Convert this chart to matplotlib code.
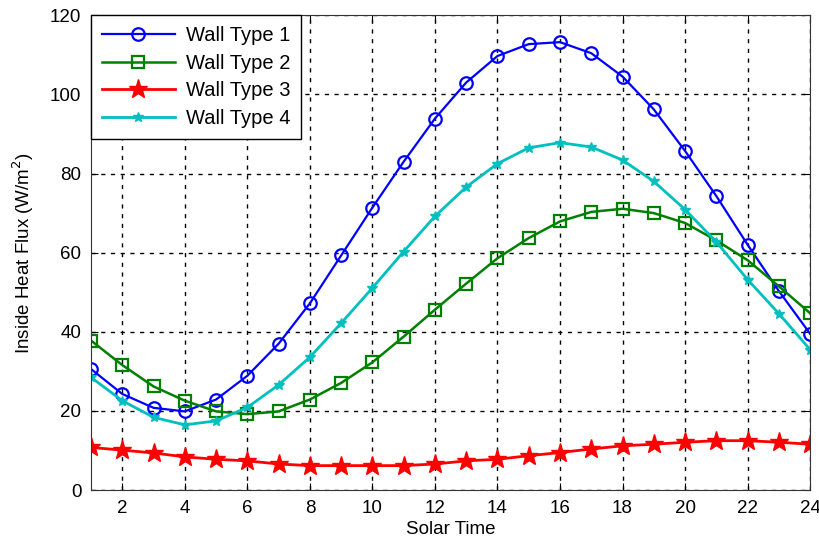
import numpy as np
import matplotlib
matplotlib.use('Agg')
import matplotlib.pyplot as plt

plt.rcParams['font.family'] = ['Liberation Sans', 'DejaVu Sans']

hours = list(range(1, 25))

# inside heat flux (W/m2)
wall1 = [30.6, 24.3, 20.8, 19.9, 22.9, 28.9, 37.0, 47.2, 59.3, 71.4, 83.0, 93.9,
         103.0, 109.7, 112.7, 113.2, 110.4, 104.5, 96.2, 85.7, 74.3, 62.0, 50.3, 39.5]
wall2 = [37.8, 31.6, 26.2, 22.6, 19.9, 19.2, 19.9, 22.9, 27.1, 32.3, 38.8, 45.6,
         52.2, 58.6, 63.7, 67.9, 70.3, 71.1, 70.0, 67.5, 63.1, 58.1, 51.5, 44.7]
wall3 = [10.8, 10.1, 9.4, 8.4, 7.8, 7.4, 6.6, 6.2, 6.2, 6.2, 6.2, 6.6,
         7.4, 7.8, 8.7, 9.5, 10.4, 11.2, 11.6, 12.1, 12.5, 12.5, 12.1, 11.6]
wall4 = [28.5, 22.6, 18.4, 16.5, 17.5, 20.9, 26.6, 33.6, 42.2, 51.1, 60.3, 69.2,
         76.6, 82.5, 86.5, 87.8, 86.7, 83.4, 78.0, 70.9, 62.7, 53.2, 44.6, 35.5]

xticks = [2, 4, 6, 8, 10, 12, 14, 16, 18, 20, 22, 24]
yticks = [0, 20, 40, 60, 80, 100, 120]

fig = plt.figure(figsize=(8.2, 5.44), dpi=100)
ax = fig.add_axes([0.111, 0.099, 0.877, 0.873])

ax.plot(hours, wall1, color='#0000ff', lw=1.6, marker='o', ms=9,
        mfc='none', mew=1.6, label='Wall Type 1')
ax.plot(hours, wall2, color='#008000', lw=1.8, marker='s', ms=9,
        mfc='none', mew=1.6, label='Wall Type 2')
ax.plot(hours, wall3, color='#ff0000', lw=2.0, marker='*', ms=14,
        label='Wall Type 3')
ax.plot(hours, wall4, color='#00bfbf', lw=2.0, marker='*', ms=7,
        label='Wall Type 4')

ax.set_xlim(1, 24)
ax.set_ylim(0, 120)
ax.set_xticks(xticks)
ax.set_yticks(yticks)
ax.tick_params(direction='in', top=True, right=True, length=5, labelsize=13.5, pad=7)
ax.grid(True, color='black', linestyle=(0, (3, 4)), linewidth=1.0)
for s in ax.spines.values():
    s.set_color('#333333')

ax.set_xlabel('Solar Time', fontsize=13.5, labelpad=3)
ax.set_ylabel('Inside Heat Flux (W/m$^2$)', fontsize=13.5, labelpad=10)

leg = ax.legend(loc='upper left', prop={'size': 14.5}, handlelength=3.6,
                fancybox=False, framealpha=1, borderaxespad=0,
                labelspacing=0.42, borderpad=0.55, handletextpad=0.55)
leg.get_frame().set_edgecolor('black')

fig.savefig('out.png', dpi=100)
